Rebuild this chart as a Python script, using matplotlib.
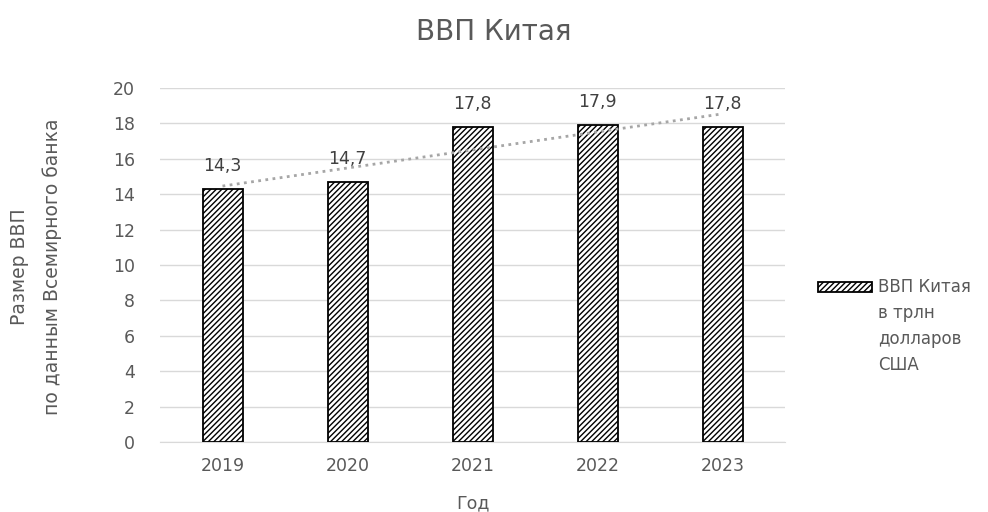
import numpy as np
import matplotlib.pyplot as plt
from matplotlib.patches import Rectangle

# data
years = ['2019', '2020', '2021', '2022', '2023']
gdp = [14.3, 14.7, 17.8, 17.9, 17.8]
labels = ['14,3', '14,7', '17,8', '17,9', '17,8']
yticks = list(range(0, 21, 2))
legend_label = 'ВВП Китая\nв трлн\nдолларов\nСША'

GRAY = '#595959'
W, H = 988, 512

plt.rcParams['font.family'] = ['DejaVu Sans']
plt.rcParams['hatch.linewidth'] = 1.0

fig = plt.figure(figsize=(W / 100, H / 100), dpi=100)
ax = fig.add_axes([160 / W, 1 - 442 / H, 625 / W, 354 / H])

x = np.arange(len(years))
ax.bar(x, gdp, width=0.32, color='white', edgecolor='black',
       hatch='//////', linewidth=1.3, zorder=3)

# linear trendline, like Excel
k, b = np.polyfit(x, gdp, 1)
ax.plot(x, k * x + b, color='#a6a6a6', linestyle=(0, (1.0, 1.6)), linewidth=2, zorder=4)

for xi, v, t in zip(x, gdp, labels):
    ax.text(xi, v + 1.3, t, ha='center', va='center', fontsize=12.5, color='#404040', zorder=5)

ax.set_xlim(-0.5, 4.5)
ax.set_ylim(0, 20)
ax.set_yticks(yticks)
ax.set_xticks(x)
ax.set_xticklabels(years)
ax.tick_params(axis='both', length=0, labelsize=12.5, colors=GRAY)
ax.tick_params(axis='y', pad=18)
ax.tick_params(axis='x', pad=11)
ax.grid(axis='y', color='#d9d9d9', linewidth=1, zorder=0)
for s in ['top', 'right', 'left']:
    ax.spines[s].set_visible(False)
ax.spines['bottom'].set_color('#d9d9d9')

ax.set_xlabel('Год', fontsize=12.5, color=GRAY, labelpad=14)

fig.text(36 / W, 1 - 267 / H, 'Размер ВВП\nпо данным Всемирного банка', rotation=90,
         ha='center', va='center', multialignment='center', fontsize=13.5,
         color=GRAY, linespacing=1.85)

fig.text(0.5, 1 - 32 / H, 'ВВП Китая', ha='center', va='center', fontsize=20, color=GRAY)

# legend drawn by hand so the swatch sits next to the first line
fig.patches.append(Rectangle((818 / W, 1 - 292 / H), 54 / W, 10 / H, transform=fig.transFigure,
                             facecolor='white', edgecolor='black', hatch='//////', linewidth=1.3))
fig.text(878 / W, 1 - 278 / H, legend_label, ha='left', va='top', fontsize=12,
         color=GRAY, linespacing=1.56)

fig.savefig('out.png', dpi=100)
